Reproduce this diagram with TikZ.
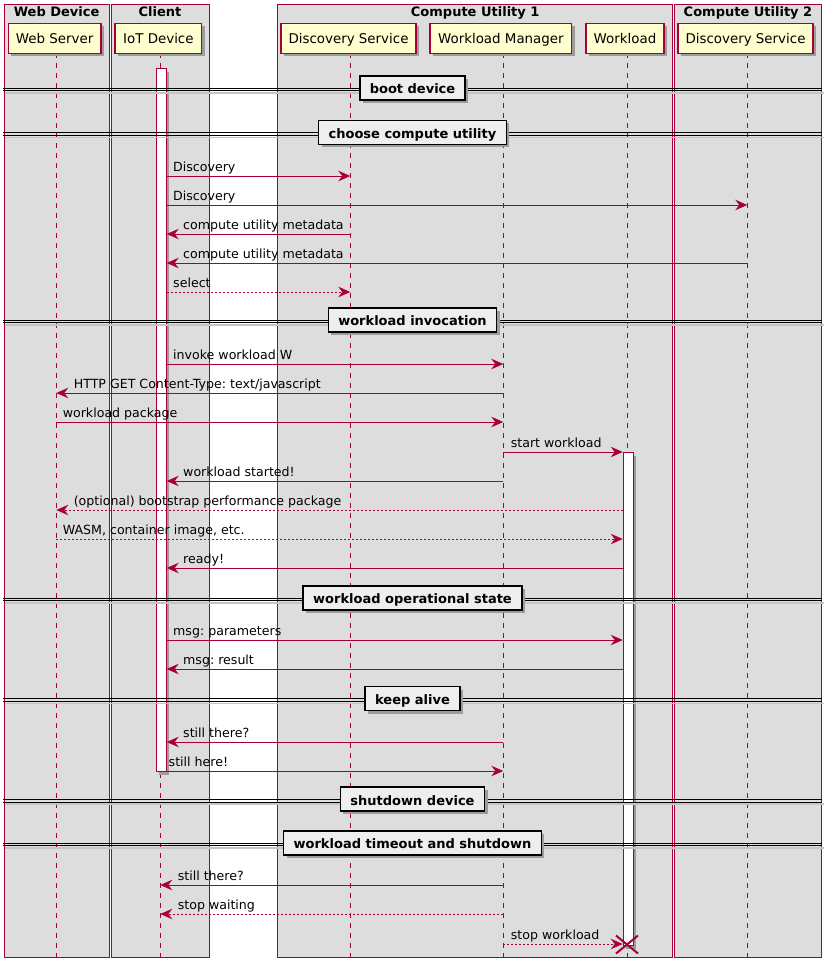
\documentclass[tikz,border=0pt]{standalone}
\usepackage{fontspec}
\setmainfont{DejaVu Sans}
\usetikzlibrary{arrows.meta,shadows}
\definecolor{crim}{HTML}{A80036}
\definecolor{partfill}{HTML}{FEFECE}
\definecolor{grpfill}{HTML}{DDDDDD}
\definecolor{sepfill}{HTML}{EEEEEE}
\definecolor{shad}{HTML}{9C9C9C}
\frenchspacing
\begin{document}
\begin{tikzpicture}[x=1pt,y=-1pt,
  grpbox/.style={draw=crim, fill=grpfill, line width=1pt},
  grptitle/.style={anchor=base, font=\fontsize{13}{15}\selectfont\bfseries, inner sep=0pt},
  part/.style={draw=crim, fill=partfill, line width=1.2pt, minimum height=30pt, inner sep=0pt,
    text height=14pt, text depth=2.6pt, font=\fontsize{13.4}{16}\selectfont,
    drop shadow={shadow xshift=3pt, shadow yshift=-3pt, fill=shad, opacity=1}},
  life/.style={draw=crim, line width=1pt, dash pattern=on 5pt off 5pt},
  act/.style={draw=crim, fill=white, line width=1pt, minimum width=10pt, inner sep=0pt, anchor=north west,
    drop shadow={shadow xshift=3pt, shadow yshift=-3pt, fill=shad, opacity=1}},
  msg/.style={draw=crim, line width=1pt, -{Stealth[length=12pt,width=10.5pt,inset=4pt]}},
  dmsg/.style={msg, dash pattern=on 2pt off 2pt},
  lbl/.style={anchor=base west, inner sep=0pt, yshift=4.5pt, font=\fontsize{12.6}{15}\selectfont},
  sepln/.style={draw=black, line width=1pt},
  sepshd/.style={draw=shad!60, line width=1.5pt},
  sepbox/.style={draw=black, fill=sepfill, line width=1.5pt, minimum height=24pt, inner xsep=10pt,
    text height=13pt, text depth=1.4pt, font=\fontsize{13}{15}\selectfont\bfseries,
    drop shadow={shadow xshift=3pt, shadow yshift=-3pt, fill=shad, opacity=1}},
  destroy/.style={draw=crim, line width=2pt}
]
\useasboundingbox (0,0) rectangle (833,974);
\fill[white] (0,0) rectangle (833,974);

% group boxes
\draw[grpbox] (4.3,4.3) rectangle (109,957);
\draw[grpbox] (111,4.3) rectangle (209,957);
\draw[grpbox] (277.7,4.3) rectangle (672.7,957);
\draw[grpbox] (674.3,4.3) rectangle (821.7,957);
\node[grptitle] (g1) at (56.6,16.8) {Web Device};
\node[grptitle] (g2) at (160,16.8) {Client};
\node[grptitle] (g3) at (475.2,16.8) {Compute Utility 1};
\node[grptitle] (g4) at (748,16.8) {Compute Utility 2};

% lifeline coordinates
\coordinate (wsT) at (56.3,53.3);   \coordinate (wsB) at (56.3,963);
\coordinate (ioT) at (160.3,53.3);  \coordinate (ioB) at (160.3,963);
\coordinate (dsT) at (350.3,53.3);  \coordinate (dsB) at (350.3,963);
\coordinate (wmT) at (503.3,53.3);  \coordinate (wmB) at (503.3,963);
\coordinate (wkT) at (627.3,53.3);  \coordinate (wkB) at (627.3,963);
\coordinate (d2T) at (747.3,53.3);  \coordinate (d2B) at (747.3,963);
\draw[life] (wsT) -- (wsB);
\draw[life] (ioT) -- (ioB);
\draw[life] (dsT) -- (dsB);
\draw[life] (wmT) -- (wmB);
\draw[life] (wkT) -- (wkB);
\draw[life] (d2T) -- (d2B);

% participants
\node[part, minimum width=92.7pt] (ws) at (54.7,38.3) {Web Server};
\node[part, minimum width=86.7pt] (iot) at (158.4,38.3) {IoT Device};
\node[part, minimum width=135pt] (ds) at (348.5,38.3) {Discovery Service};
\node[part, minimum width=141.7pt] (wm) at (500.9,38.3) {Workload Manager};
\node[part, minimum width=78pt] (wk) at (625,38.3) {Workload};
\node[part, minimum width=135pt] (ds2) at (745.5,38.3) {Discovery Service};

% activations
\node[act, minimum height=702.7pt] (actI) at (155.7,68.3) {};
\node[act, minimum height=493pt] (actW) at (622.7,452) {};

% messages
\draw[msg] (actI.east |- 0,176) -- (dsT |- 0,176) node[lbl, at start, xshift=6pt] {Discovery};
\draw[msg] (actI.east |- 0,205) -- (d2T |- 0,205) node[lbl, at start, xshift=6pt] {Discovery};
\draw[msg] (dsT |- 0,234) -- (actI.east |- 0,234) node[lbl, at end, xshift=16pt] {compute utility metadata};
\draw[msg] (d2T |- 0,263) -- (actI.east |- 0,263) node[lbl, at end, xshift=16pt] {compute utility metadata};
\draw[dmsg] (actI.east |- 0,292) -- (dsT |- 0,292) node[lbl, at start, xshift=6pt] {select};
\draw[msg] (actI.east |- 0,364) -- (wmT |- 0,364) node[lbl, at start, xshift=6pt] {invoke workload W};
\draw[msg] (wmT |- 0,393) -- (wsT |- 0,393) node[lbl, at end, xshift=17pt] {HTTP GET Content-Type: text/javascript};
\draw[msg] (wsT |- 0,422) -- (wmT |- 0,422) node[lbl, at start, xshift=6pt] {workload package};
\draw[msg] (wmT |- 0,452) -- (actW.west |- 0,452) node[lbl, at start, xshift=7pt] {start workload};
\draw[msg] (wmT |- 0,481) -- (actI.east |- 0,481) node[lbl, at end, xshift=16pt] {workload started!};
\draw[dmsg] (actW.west |- 0,510) -- (wsT |- 0,510) node[lbl, at end, xshift=17pt] {(optional) bootstrap performance package};
\draw[dmsg] (wsT |- 0,539) -- (actW.west |- 0,539) node[lbl, at start, xshift=6pt] {WASM, container image, etc.};
\draw[msg] (actW.west |- 0,568) -- (actI.east |- 0,568) node[lbl, at end, xshift=16pt] {ready!};
\draw[msg] (actI.east |- 0,640) -- (actW.west |- 0,640) node[lbl, at start, xshift=6pt] {msg: parameters};
\draw[msg] (actW.west |- 0,669) -- (actI.east |- 0,669) node[lbl, at end, xshift=16pt] {msg: result};
\draw[msg] (wmT |- 0,742) -- (actI.east |- 0,742) node[lbl, at end, xshift=16pt] {still there?};
\draw[msg] (actI.east |- 0,771) -- (wmT |- 0,771) node[lbl, at start, xshift=1.5pt] {still here!};
\draw[msg] (wmT |- 0,885) -- (ioT |- 0,885) node[lbl, at end, xshift=17pt] {still there?};
\draw[dmsg] (wmT |- 0,914) -- (ioT |- 0,914) node[lbl, at end, xshift=17pt] {stop waiting};
\draw[dmsg] (wmT |- 0,944) -- (actW.west |- 0,944) node[lbl, at start, xshift=7pt] {stop workload};

% destroy mark
\coordinate (xw) at (627,944.5);
\draw[destroy] ([xshift=-11pt,yshift=9pt]xw) -- ([xshift=11pt,yshift=-9pt]xw);
\draw[destroy] ([xshift=-11pt,yshift=-9pt]xw) -- ([xshift=11pt,yshift=9pt]xw);

% separators
\foreach \yy/\nm/\txt in {89.5/s1/boot device, 133.8/s2/choose compute utility, 321.5/s3/workload invocation,
   599.5/s4/workload operational state, 700/s5/keep alive, 800.7/s6/shutdown device,
   844.5/s7/workload timeout and shutdown}{
  \draw[sepshd] (5,\yy+3.5) -- (824,\yy+3.5);
  \draw[sepln] (3.3,\yy-1.3) -- (821.7,\yy-1.3);
  \draw[sepln] (3.3,\yy+1.3) -- (821.7,\yy+1.3);
  \node[sepbox] (\nm) at (412.5,\yy-1.5) {\txt};
}
\end{tikzpicture}
\end{document}
